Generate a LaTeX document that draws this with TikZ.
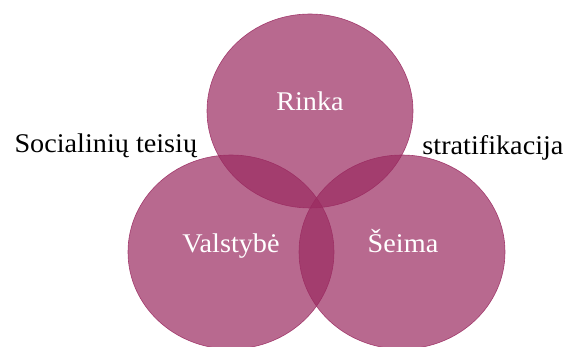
\documentclass[tikz,border=0pt]{standalone}
\usepackage{fontspec}
\newfontfamily\timesfont[FakeStretch=1.045]{Liberation Serif}
\definecolor{plum}{HTML}{9A2A60}
\tikzset{
  sphere/.style={fill=plum,fill opacity=0.7,draw=plum,draw opacity=0.85,line width=0.6pt},
  inlabel/.style={text=white,font=\timesfont\fontsize{27}{30}\selectfont,anchor=base},
  outlabel/.style={text=black,font=\timesfont\fontsize{27}{30}\selectfont}
}

\begin{document}
\begin{tikzpicture}[x=1pt,y=1pt]
      \useasboundingbox (0,0) rectangle (565,347);
      \clip (0,0) rectangle (565,347);

      \draw[sphere] (310,236) ellipse (103 and 97);% market
      \draw[sphere] (231,95) ellipse (103 and 97);% state
      \draw[sphere] (402,95) ellipse (103 and 97);% family

      \node[inlabel] (rinka) at (310,236) {Rinka};
      \node[inlabel] (valstybe) at (231,94) {Valstybė};
      \node[inlabel] (seima) at (403,94) {Šeima};

      \node[outlabel,anchor=base west] (teisiu) at (11,194) {Socialinių teisių};
      \node[outlabel,anchor=base east] (strat) at (567,192) {stratifikacija};
\end{tikzpicture}
\end{document}
